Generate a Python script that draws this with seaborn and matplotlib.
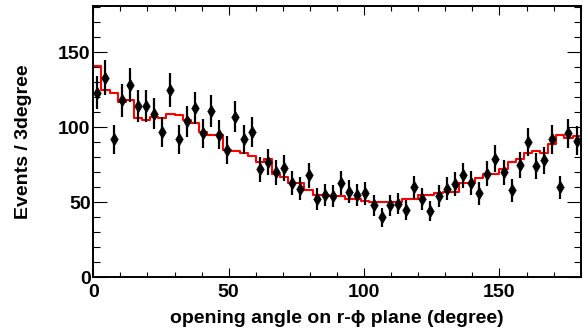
import numpy as np
import pandas as pd
import seaborn as sns
import matplotlib
matplotlib.use("Agg")
import matplotlib.pyplot as plt
from matplotlib.ticker import MultipleLocator

# opening angle bins, 3 degree wide
bin_edges = np.arange(0, 181, 3)
bin_centers = (bin_edges[:-1] + bin_edges[1:]) / 2

# measured events per bin (points)
data_counts = [123, 133, 92, 118, 128, 114, 114, 109, 97, 125,
               92, 104, 113, 96, 111, 95, 85, 107, 92, 97,
               72, 77, 70, 73, 63, 59, 68, 52, 55, 54,
               63, 57, 55, 56, 48, 40, 48, 49, 45, 60,
               52, 44, 54, 59, 62, 68, 63, 56, 69, 79,
               70, 58, 75, 90, 74, 78, 92, 60, 96, 91]

# simulated expectation per bin (red histogram)
mc_counts = [141, 125, 123, 117, 118, 106, 105, 107, 106, 109,
             108, 105, 103, 97, 95, 95, 85, 84, 83, 81,
             77, 79, 69, 67, 63, 63, 58, 55, 55, 54,
             54, 52, 52, 51, 50, 50, 50, 50, 52, 52,
             55, 55, 56, 57, 57, 63, 63, 66, 69, 69,
             72, 77, 79, 83, 84, 83, 89, 95, 93, 94]

x_ticks = [0, 50, 100, 150]
y_ticks = [0, 50, 100, 150]

df = pd.DataFrame({"angle": bin_centers,
                   "data": np.array(data_counts, dtype=float),
                   "mc": np.array(mc_counts, dtype=float)})

sns.set_style("white", {"text.color": "black", "axes.labelcolor": "black",
                        "xtick.color": "black", "ytick.color": "black",
                        "axes.edgecolor": "black"})
plt.rcParams['font.family'] = ['Liberation Sans', 'DejaVu Sans']
plt.rcParams['font.weight'] = 'bold'

fig = plt.figure(figsize=(5.85, 3.31), dpi=100)
ax = fig.add_axes([0.1595, 0.1622, 0.8331, 0.8206])

# MC histogram as red steps
sns.histplot(data=df, x="angle", weights="mc", bins=len(bin_centers),
             binrange=(bin_edges[0], bin_edges[-1]), element="step",
             fill=False, color="red", linewidth=1.5, ax=ax)

# data points with sqrt(N) errors
ax.errorbar(df["angle"], df["data"], yerr=np.sqrt(df["data"]), fmt='none',
            ecolor='black', elinewidth=1.6, capsize=0, zorder=3)
sns.scatterplot(data=df, x="angle", y="data", marker='d', s=42, color='black',
                edgecolor='black', linewidth=0.4, ax=ax, zorder=4)

ax.set_xlim(0, 180)
ax.set_ylim(0, 181)
ax.set_xticks(x_ticks)
ax.set_yticks(y_ticks)
ax.xaxis.set_minor_locator(MultipleLocator(10))
ax.yaxis.set_minor_locator(MultipleLocator(10))

ax.tick_params(axis='x', which='major', direction='in', length=6.5, width=0.8,
               top=True, bottom=True, labelsize=14, pad=5, colors='black')
ax.tick_params(axis='x', which='minor', direction='in', length=3.3, width=0.8,
               top=True, bottom=True, colors='black')
ax.tick_params(axis='y', which='major', direction='in', length=10, width=0.8,
               left=True, right=True, labelsize=14, pad=2, colors='black')
ax.tick_params(axis='y', which='minor', direction='in', length=5, width=0.8,
               left=True, right=True, colors='black')
for lab in ax.get_xticklabels() + ax.get_yticklabels():
    lab.set_fontweight('bold')

for sp in ax.spines.values():
    sp.set_linewidth(1.4)
    sp.set_color('black')

ax.set_xlabel(u"opening angle on r-\u03d5 plane (degree)", fontsize=14,
              fontweight='bold', labelpad=6, color='black')
ax.set_ylabel("Events / 3degree", fontsize=14, fontweight='bold', color='black')
ax.yaxis.set_label_coords(-0.125, 0.5)

fig.savefig("out.png", dpi=100)
